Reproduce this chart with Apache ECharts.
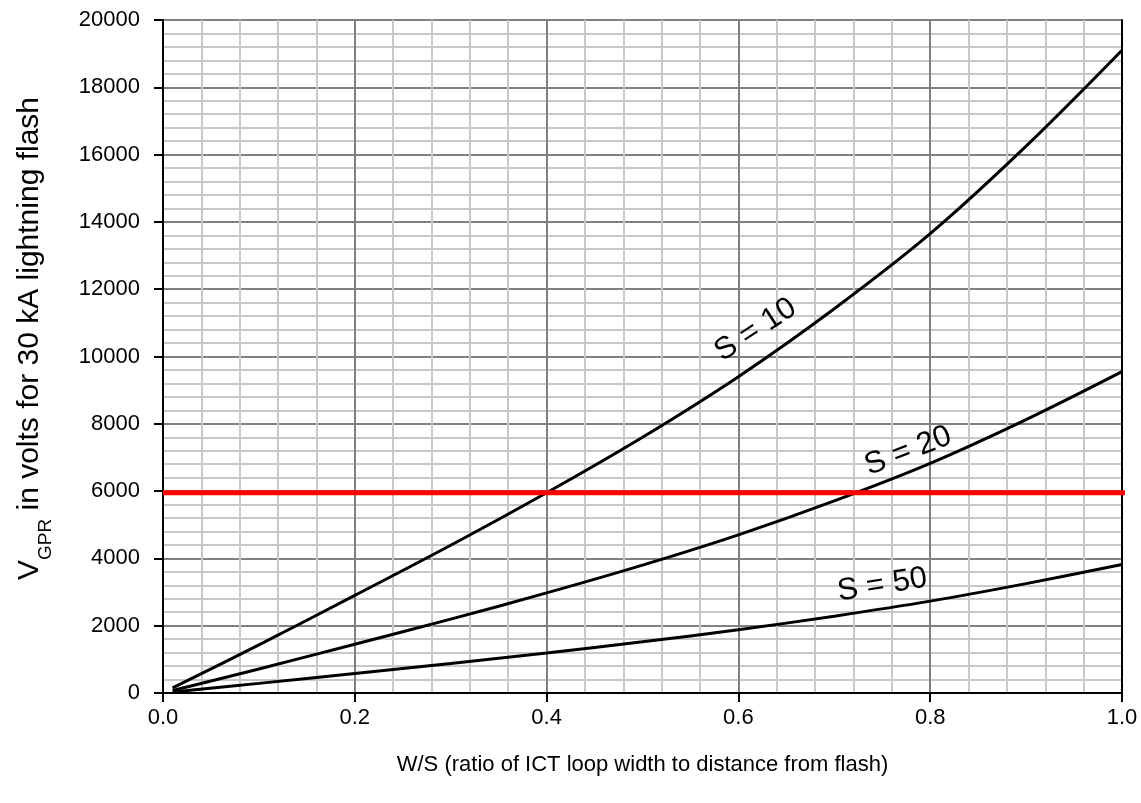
<!DOCTYPE html>
<html>
<head>
<meta charset="utf-8">
<script src="https://cdn.jsdelivr.net/npm/echarts@6/dist/echarts.min.js"></script>
<style>
  html, body { margin: 0; padding: 0; background: #fff; }
  #chart { width: 1141px; height: 803px; }
</style>
</head>
<body>
<div id="chart"></div>
<script>
// W/S ratio sample points
const ratio = [0.01, 0.1, 0.2, 0.3, 0.4, 0.5, 0.6, 0.7, 0.8, 0.9, 1.0];
// Ground potential rise (V) for a 30 kA flash, per distance S
const vS10 = [150, 1430, 2900, 4390, 5950, 7600, 9400, 11420, 13650, 16250, 19100];
const vS20 = [75, 715, 1450, 2195, 2975, 3800, 4700, 5710, 6825, 8125, 9550];
const vS50 = [30, 286, 580, 878, 1190, 1520, 1880, 2284, 2730, 3250, 3820];
// Threshold voltage and the W/S span it is drawn across
const threshold = 5950;
const thresholdSpan = [0, 1.008];
// Curve captions
const captions = ['S = 10', 'S = 20', 'S = 50'];

const FONT = 'Liberation Sans, Arial, sans-serif';

function pairs(xs, ys) { return xs.map((x, i) => [x, ys[i]]); }

function curve(name, values, caption, at, angle) {
  return {
    name: name,
    type: 'line',
    smooth: 0.35,
    showSymbol: false,
    data: pairs(ratio, values),
    lineStyle: { color: '#000', width: 3 },
    z: 5,
    markPoint: {
      symbol: 'circle',
      symbolSize: 0,
      silent: true,
      data: [{ coord: at, value: caption }],
      label: {
        show: true,
        position: 'inside',
        formatter: caption,
        rotate: angle,
        color: '#000',
        fontFamily: FONT,
        fontSize: 31
      }
    }
  };
}

const chart = echarts.init(document.getElementById('chart'), null, { renderer: 'canvas' });
chart.setOption({
  animation: false,
  backgroundColor: '#fff',
  grid: { left: 163, right: 19, top: 20, bottom: 110, containLabel: false },
  xAxis: {
    type: 'value',
    min: 0, max: 1, interval: 0.2,
    name: 'W/S (ratio of ICT loop width to distance from flash)',
    nameLocation: 'middle',
    nameGap: 61,
    nameTextStyle: { color: '#000', fontFamily: FONT, fontSize: 22 },
    axisLine: { show: true, onZero: false, lineStyle: { color: '#000', width: 2 } },
    axisTick: { show: true, inside: false, length: 9, lineStyle: { color: '#000', width: 2 } },
    axisLabel: { color: '#000', fontFamily: FONT, fontSize: 22, margin: 14, formatter: v => v.toFixed(1) },
    splitLine: { show: true, lineStyle: { color: '#808080', width: 2 } },
    minorTick: { show: false, splitNumber: 5 },
    minorSplitLine: { show: true, lineStyle: { color: '#c8c8c8', width: 2 } }
  },
  yAxis: [{
    type: 'value',
    min: 0, max: 20000, interval: 2000,
    name: '{v|V}{sub|GPR}{v| in volts for 30 kA lightning flash}',
    nameLocation: 'middle',
    nameRotate: 90,
    nameGap: 118,
    nameTextStyle: {
      color: '#000', fontFamily: FONT, fontSize: 30,
      padding: [0, 0, 0, 36],
      rich: {
        v: { color: '#000', fontFamily: FONT, fontSize: 30 },
        sub: { color: '#000', fontFamily: FONT, fontSize: 19, verticalAlign: 'bottom', padding: [0, 0, -10, 0] }
      }
    },
    axisLine: { show: true, lineStyle: { color: '#000', width: 2 } },
    axisTick: { show: true, inside: false, length: 9, lineStyle: { color: '#000', width: 2 } },
    axisLabel: { color: '#000', fontFamily: FONT, fontSize: 22, margin: 23, formatter: v => String(v) },
    splitLine: { show: true, lineStyle: { color: '#808080', width: 2 } },
    minorTick: { show: false, splitNumber: 5 },
    minorSplitLine: { show: true, lineStyle: { color: '#c8c8c8', width: 2 } }
  }, {
    type: 'value',
    position: 'right',
    min: 0, max: 20000, interval: 2000,
    axisLine: { show: true, lineStyle: { color: '#000', width: 2 } },
    axisTick: { show: false },
    axisLabel: { show: false },
    splitLine: { show: false }
  }],
  series: [
    curve('S = 10', vS10, captions[0], [0.618, 10790], 33),
    curve('S = 20', vS20, captions[1], [0.777, 7190], 21),
    curve('S = 50', vS50, captions[2], [0.750, 3210], 9),
    {
      name: 'threshold',
      type: 'line',
      showSymbol: false,
      clip: false,
      data: thresholdSpan.map(x => [x, threshold]),
      lineStyle: { color: '#ff0000', width: 5 },
      z: 6
    }
  ]
});
</script>
</body>
</html>
